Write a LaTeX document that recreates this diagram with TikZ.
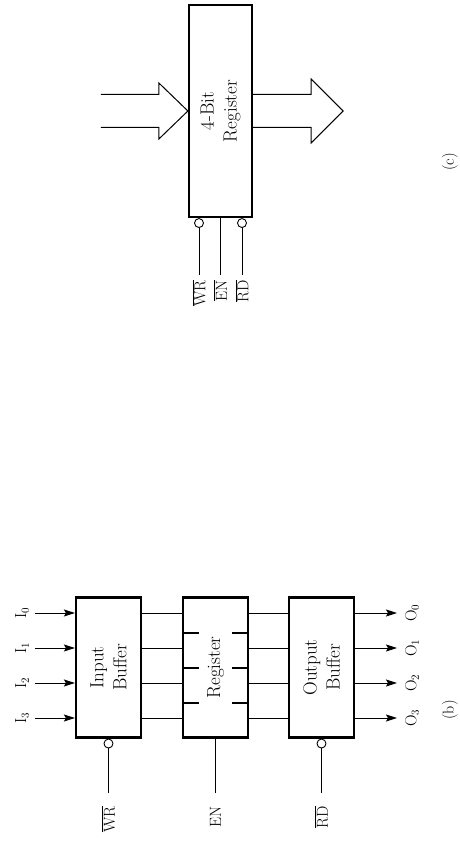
\documentclass[tikz,border=0pt]{standalone}
\usepackage{tikz}
\usetikzlibrary{calc,arrows.meta}

\tikzset{
  blk/.style={draw,line width=2.2pt,minimum width=140pt,minimum height=65pt,
    inner sep=0pt,align=center,font=\fontsize{19}{23}\selectfont},
  sig/.style={line width=0.9pt},
  sigarr/.style={sig,-{Stealth[length=11pt,width=7pt,inset=2pt]}},
  hol/.style={line width=1pt,line join=miter},
  regtick/.style={line width=2pt},
  inv/.style={draw,circle,fill=white,line width=0.9pt,inner sep=0pt,minimum size=9pt},
  lbl/.style={inner sep=0pt,font=\fontsize{16}{18}\selectfont},
}

\begin{document}
\begin{tikzpicture}[x=1pt,y=1pt]
  \useasboundingbox (-460,0) rectangle (0,846);
  \begin{scope}[rotate=90,transform shape]
  \node[blk] (inbuf) at (178.5,351.5) {Input\\Buffer};
  \node[blk] (reg) at (178.5,244.5) {Register};
  \node[blk] (outbuf) at (178.5,138.5) {Output\\Buffer};
  \foreach \k/\u in {0/233,1/198,2/163,3/128}{
    \coordinate (i\k) at (\u,425);
    \coordinate (o\k) at (\u,63);
    \node[lbl] (li\k) at (\u,438) {I$_\k$};
    \node[lbl] (lo\k) at (\u,48) {O$_\k$};
    \draw[sigarr] (i\k) -- ($(inbuf.north west)!(i\k)!(inbuf.north east)$);
    \draw[sig] ($(inbuf.south west)!(i\k)!(inbuf.south east)$)
      -- ($(reg.north west)!(i\k)!(reg.north east)$);
    \draw[sig] ($(reg.south west)!(i\k)!(reg.south east)$)
      -- ($(outbuf.north west)!(i\k)!(outbuf.north east)$);
    \draw[sigarr] ($(outbuf.south west)!(i\k)!(outbuf.south east)$) -- (o\k);
  }
  \foreach \u in {213,178,143}{
    \coordinate (t) at (\u,0);
    \draw[regtick] ($(reg.north west)!(t)!(reg.north east)$) -- ++(0,-17);
    \draw[regtick] ($(reg.south west)!(t)!(reg.south east)$) -- ++(0,17);
  }
  \node[inv,anchor=east] (bwr) at (inbuf.west) {};
  \node[inv,anchor=east] (brd) at (outbuf.west) {};
  \coordinate (ewr) at (53,351.5);
  \coordinate (een) at (53,244.5);
  \coordinate (erd) at (53,138.5);
  \draw[sig] (ewr) -- (bwr);
  \draw[sig] (een) -- (reg.west);
  \draw[sig] (erd) -- (brd);
  \node[lbl,anchor=east] (lwr) at (40,351.5) {$\overline{\mbox{WR}}$};
  \node[lbl,anchor=east] (len) at (40,244.5) {EN};
  \node[lbl,anchor=east] (lrd) at (40,138.5) {$\overline{\mbox{RD}}$};
  \node[lbl] (capb) at (136,10) {(b)};

  \node[blk,minimum width=212pt,minimum height=63pt] (reg4) at (735,239.5) {4-Bit\\Register};
  \draw[hol] ($(reg4.north)+(16.5,87)$) -- ++(0,-58) -- ++(11.5,0) -- ++(-28,-29)
    -- ++(-28,29) -- ++(11.5,0) -- ++(0,58);
  \draw[hol] ($(reg4.south)+(16.5,0)$) -- ++(0,-58) -- ++(15.5,0) -- ++(-32,-32)
    -- ++(-32,32) -- ++(15.5,0) -- ++(0,58);
  \node[inv,anchor=east] (cwr) at ($(reg4.west)+(0,21.5)$) {};
  \node[inv,anchor=east] (crd) at ($(reg4.west)+(0,-21.5)$) {};
  \coordinate (fwr) at (571,261);
  \coordinate (fen) at (571,239.5);
  \coordinate (frd) at (571,218);
  \draw[sig] (fwr) -- (cwr);
  \draw[sig] (fen) -- (reg4.west);
  \draw[sig] (frd) -- (crd);
  \node[lbl,anchor=east] (mwr) at (566,261) {$\overline{\mbox{WR}}$};
  \node[lbl,anchor=east] (men) at (566,239.5) {$\overline{\mbox{EN}}$};
  \node[lbl,anchor=east] (mrd) at (566,218) {$\overline{\mbox{RD}}$};
  \node[lbl] (capc) at (684,10) {(c)};
  \end{scope}
\end{tikzpicture}
\end{document}
